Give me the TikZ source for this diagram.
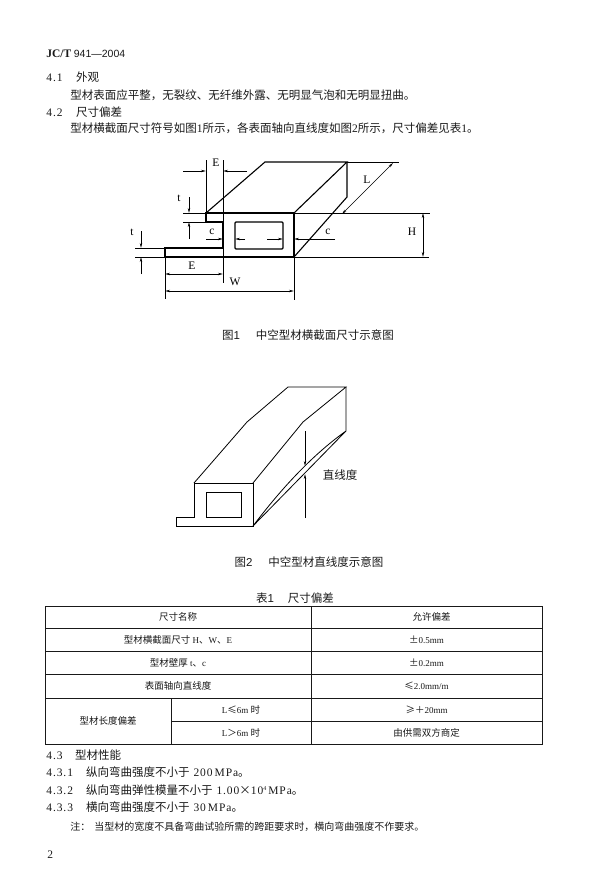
\documentclass[tikz,border=0pt]{standalone}
\usepackage{fontspec}
\usetikzlibrary{arrows.meta}
\setmainfont{Noto Sans CJK SC}
\newfontfamily\latinfont{Liberation Serif}
\newfontfamily\headfont{Liberation Sans}
\newfontfamily\numfont[LetterSpace=8]{Liberation Serif}
\newcommand{\nm}[1]{{\numfont\fontsize{11.5}{12}\selectfont #1}}
\newcommand{\nmsmall}[1]{{\latinfont\fontsize{9}{10}\selectfont #1}}
\newcommand{\fcomma}{\char"FF0C\relax}
\newcommand{\fcolon}{\char"FF1A\relax}
\newcommand{\fgt}{\char"FF1E\relax}
\newcommand{\fplus}{\char"FF0B\relax}

\begin{document}
\begin{tikzpicture}[x=1pt,y=-1pt,line width=0.7pt]
	\tikzstyle{body text} = [anchor=west,inner sep=0pt,font=\fontsize{11.5}{12}\selectfont,black!90]
	\tikzstyle{note text} = [anchor=west,inner sep=0pt,font=\fontsize{10}{10}\selectfont,black!90]
	\tikzstyle{caption} = [inner sep=0pt,font=\fontsize{11.5}{12}\selectfont,black!90]
	\tikzstyle{dim label} = [inner sep=0pt,font=\latinfont\fontsize{11.5}{12}\selectfont]
	\tikzstyle{cell} = [draw,line width=0.8pt,inner sep=0pt,font=\fontsize{9.5}{10}\selectfont,black!90]
	\tikzstyle{profile} = [line width=1.1pt,line join=miter]
	\tikzstyle{thin line} = [line width=0.6pt]
	\tikzstyle{dim} = [thin line,-{Stealth[length=5pt,width=2.4pt]}]
	\tikzstyle{dim both} = [thin line,{Stealth[length=5pt,width=2.4pt]}-{Stealth[length=5pt,width=2.4pt]}]

	\useasboundingbox (0,0) rectangle (609,892);

	% text above the figures
	\node[body text] (head) at (46,54) {{\latinfont\bfseries\fontsize{11.5}{12}\selectfont JC/T} {\headfont\fontsize{10.5}{11}\selectfont 941—2004}};
	\node[body text] (sec1) at (46,77) {\nm{4.1}\hspace{13.5pt}外观};
	\node[body text] (sec1a) at (70,95) {型材表面应平整\fcomma 无裂纹、无纤维外露、无明显气泡和无明显扭曲。};
	\node[body text] (sec2) at (46,112) {\nm{4.2}\hspace{13.5pt}尺寸偏差};
	\node[body text] (sec2a) at (70,128) {型材横截面尺寸符号如图{\latinfont 1}所示\fcomma 各表面轴向直线度如图{\latinfont 2}所示\fcomma 尺寸偏差见表{\latinfont 1}。};

	% figure 1: profile
	\draw[profile] (206,213) -- (294,213) -- (294,257) -- (165,257) -- (165,248) -- (223,248) -- (223,222) -- (206,222) -- cycle;
	\draw[profile,rounded corners=1pt] (235,222) rectangle (283,249);
	\draw[profile] (206,213) -- (265,162) -- (347,162) -- (294,213);
	\draw[profile] (347,162) -- (347,197) -- (294,257);

	% figure 1: reference points
	\coordinate (back) at (347,162);
	\coordinate (backx) at (399,162);
	\coordinate (top) at (294,213);
	\coordinate (topx) at (430,213);
	\coordinate (bot) at (294,257);
	\coordinate (botx) at (429,257);
	\coordinate (Ha) at (423,213);
	\coordinate (Hb) at (423,257);
	\coordinate (La) at (342,214);
	\coordinate (Lb) at (393,163);
	\draw[thin line] (back) -- (backx);
	\draw[thin line] (top) -- (topx);
	\draw[thin line] (bot) -- (botx);
	\draw[dim both] (Ha) -- (Hb);
	\draw[dim both] (La) -- (Lb);
	\node[dim label] (lH) at (412,232) {H};
	\node[dim label] (lL) at (367,180) {L};

	% figure 1: upper E
	\coordinate (e1a) at (206,160);
	\coordinate (e1b) at (206,213);
	\coordinate (e2a) at (223,160);
	\coordinate (e2b) at (223,283);
	\coordinate (e1s) at (183,171);
	\coordinate (e1e) at (206,171);
	\coordinate (e2s) at (247,171);
	\coordinate (e2e) at (223,171);
	\draw[thin line] (e1a) -- (e1b);
	\draw[thin line] (e2a) -- (e2b);
	\draw[dim] (e1s) -- (e1e);
	\draw[dim] (e2s) -- (e2e);
	\node[dim label] (lE) at (216,163) {E};

	% figure 1: upper t
	\coordinate (t1a) at (183,213);
	\coordinate (t1b) at (206,213);
	\coordinate (t2a) at (183,222);
	\coordinate (t2b) at (206,222);
	\coordinate (t1s) at (189,197);
	\coordinate (t1e) at (189,213);
	\coordinate (t2s) at (189,239);
	\coordinate (t2e) at (189,222);
	\draw[thin line] (t1a) -- (t1b);
	\draw[thin line] (t2a) -- (t2b);
	\draw[dim] (t1s) -- (t1e);
	\draw[dim] (t2s) -- (t2e);
	\node[dim label] (lt) at (179,198) {t};

	% figure 1: lower t
	\coordinate (u1a) at (135,248);
	\coordinate (u1b) at (165,248);
	\coordinate (u2a) at (135,257);
	\coordinate (u2b) at (165,257);
	\coordinate (u1s) at (141,231);
	\coordinate (u1e) at (141,248);
	\coordinate (u2s) at (141,274);
	\coordinate (u2e) at (141,257);
	\draw[thin line] (u1a) -- (u1b);
	\draw[thin line] (u2a) -- (u2b);
	\draw[dim] (u1s) -- (u1e);
	\draw[dim] (u2s) -- (u2e);
	\node[dim label] (lu) at (132,232) {t};

	% figure 1: c
	\coordinate (c1s) at (206,239);
	\coordinate (c1e) at (223,239);
	\coordinate (c2s) at (245,239);
	\coordinate (c2e) at (235,239);
	\coordinate (c3s) at (267,239);
	\coordinate (c3e) at (283,239);
	\coordinate (c4s) at (335,239);
	\coordinate (c4e) at (294,239);
	\draw[dim] (c1s) -- (c1e);
	\draw[dim] (c2s) -- (c2e);
	\draw[dim] (c3s) -- (c3e);
	\draw[dim] (c4s) -- (c4e);
	\node[dim label] (lc) at (212,232) {c};
	\node[dim label] (ld) at (328,232) {c};

	% figure 1: lower E and W
	\coordinate (w1a) at (165,257);
	\coordinate (w1b) at (165,299);
	\coordinate (w2a) at (294,257);
	\coordinate (w2b) at (294,300);
	\coordinate (Ea) at (165,274);
	\coordinate (Eb) at (223,274);
	\coordinate (Wa) at (165,291);
	\coordinate (Wb) at (294,291);
	\draw[thin line] (w1a) -- (w1b);
	\draw[thin line] (w2a) -- (w2b);
	\draw[dim both] (Ea) -- (Eb);
	\draw[dim both] (Wa) -- (Wb);
	\node[dim label] (lF) at (192,266) {E};
	\node[dim label] (lW) at (235,282) {W};

	\node[caption] (cap1) at (308,335) {图{\headfont 1}\hspace{16pt}中空型材横截面尺寸示意图};

	% figure 2
	\draw[line width=0.8pt] (176,517) -- (176,526) -- (253,526) -- (253,483) -- (194,483) -- (194,517) -- cycle;
	\draw[line width=0.8pt] (206,492) rectangle (241,517);
	\draw[line width=0.8pt] (194,483) -- (247,422) -- (288,387) -- (346,387) -- (303,422) -- (253,483);
	\draw[line width=0.8pt] (346,387) -- (346,431) .. controls (315,453) and (284,485) .. (253,526) -- (346,431);
	\coordinate (s1s) at (305,431);
	\coordinate (s1e) at (305,466);
	\coordinate (s2s) at (305,518);
	\coordinate (s2e) at (305,474);
	\draw[dim] (s1s) -- (s1e);
	\draw[dim] (s2s) -- (s2e);
	\node[caption] (lS) at (340,475) {直线度};
	\node[caption] (cap2) at (309,562) {图{\headfont 2}\hspace{16pt}中空型材直线度示意图};

	% table
	\node[caption] (cap3) at (295,598) {表{\headfont 1}\hspace{14pt}尺寸偏差};
	\node[cell,minimum width=266pt,minimum height=22pt] (a1) at (178,617) {尺寸名称};
	\node[cell,minimum width=231pt,minimum height=22pt] (b1) at (426.5,617) {\hspace*{10pt}允许偏差};
	\node[cell,minimum width=266pt,minimum height=23pt] (a2) at (178,639.5) {型材横截面尺寸 \nmsmall{H}、\nmsmall{W}、\nmsmall{E}};
	\node[cell,minimum width=231pt,minimum height=23pt] (b2) at (426.5,639.5) {±\nmsmall{0.5mm}};
	\node[cell,minimum width=266pt,minimum height=23pt] (a3) at (178,662.5) {型材壁厚 \nmsmall{t}、\nmsmall{c}};
	\node[cell,minimum width=231pt,minimum height=23pt] (b3) at (426.5,662.5) {±\nmsmall{0.2mm}};
	\node[cell,minimum width=266pt,minimum height=24pt] (a4) at (178,686) {表面轴向直线度};
	\node[cell,minimum width=231pt,minimum height=24pt] (b4) at (426.5,686) {≤\nmsmall{2.0mm/m}};
	\node[cell,minimum width=126pt,minimum height=46pt] (a5) at (108,721) {型材长度偏差};
	\node[cell,minimum width=140pt,minimum height=23pt] (c5) at (241,709.5) {\nmsmall{L}≤\nmsmall{6m} 时};
	\node[cell,minimum width=140pt,minimum height=23pt] (c6) at (241,732.5) {\nmsmall{L}\fgt\nmsmall{6m} 时};
	\node[cell,minimum width=231pt,minimum height=23pt] (b5) at (426.5,709.5) {≥\fplus\nmsmall{20mm}};
	\node[cell,minimum width=231pt,minimum height=23pt] (b6) at (426.5,732.5) {由供需双方商定};

	% text below the table
	\node[body text] (sec3) at (46,755) {\nm{4.3}\hspace{12.5pt}型材性能};
	\node[body text] (sec31) at (46,772) {\nm{4.3.1}\hspace{13pt}纵向弯曲强度不小于\hspace{4pt}\nm{200}\hspace{2pt}\nm{MPa}。};
	\node[body text] (sec32) at (46,790) {\nm{4.3.2}\hspace{13pt}纵向弯曲弹性模量不小于\hspace{4pt}\nm{1.00}×\nm{10}\raisebox{4pt}{\numfont\fontsize{6}{6}\selectfont 4}\hspace{2pt}\nm{MPa}。};
	\node[body text] (sec33) at (46,807) {\nm{4.3.3}\hspace{13pt}横向弯曲强度不小于\hspace{4pt}\nm{30}\hspace{2pt}\nm{MPa}。};
	\node[note text] (note) at (70,827) {注\fcolon\hspace{4pt}当型材的宽度不具备弯曲试验所需的跨距要求时\fcomma 横向弯曲强度不作要求。};
	\node[body text] (page) at (47,855) {\nm{2}};
\end{tikzpicture}
\end{document}
